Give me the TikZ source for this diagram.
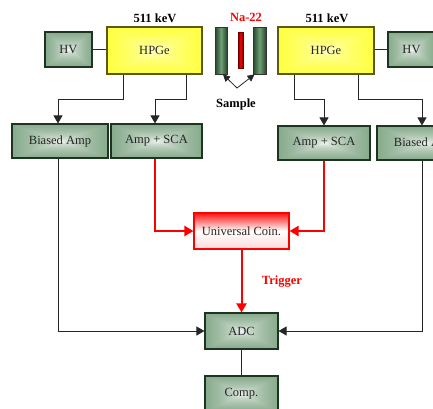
\documentclass[tikz,border=0pt]{standalone}
\usepackage{fontspec}
\setmainfont{Liberation Serif}
\usetikzlibrary{arrows.meta}

% rectangular "from centre" gradients: white in the middle, colour at the rim
\pgfdeclarefunctionalshading{greenbox}{\pgfpoint{-50bp}{-50bp}}{\pgfpoint{50bp}{50bp}}{}{
  abs exch abs 2 copy lt {exch} if pop 50 div sqrt
  dup 0.667 mul 1 exch sub exch
  dup 0.470 mul 1 exch sub exch
  0.640 mul 1 exch sub}
\pgfdeclarefunctionalshading{yellowbox}{\pgfpoint{-50bp}{-50bp}}{\pgfpoint{50bp}{50bp}}{}{
  abs exch abs 2 copy lt {exch} if pop 50 div sqrt
  1 exch sub 0.85 mul 1 1 3 -1 roll}

\definecolor{boxedge}{RGB}{28,52,32}
\definecolor{hpgeedge}{RGB}{90,90,20}
\definecolor{bardark}{RGB}{38,68,44}
\definecolor{barlight}{RGB}{112,160,118}
\definecolor{srcdark}{RGB}{110,0,0}
\definecolor{coinred}{RGB}{255,20,20}

\tikzset{
  txt/.style={font=\fontsize{12.5}{15}\selectfont, text=black!85},
  gbox/.style={txt, draw=boxedge, line width=1.1pt, shade, shading=greenbox, inner sep=0pt},
  ybox/.style={txt, draw=hpgeedge, line width=1.1pt, shade, shading=yellowbox, inner sep=0pt,
               minimum width=95pt, minimum height=47pt},
  bar/.style={draw=black!80, line width=0.8pt, left color=bardark, right color=bardark,
              middle color=barlight, inner sep=0pt, minimum width=12pt, minimum height=47pt},
  conn/.style={draw=black!85, line width=0.8pt},
  tip/.style={-{Triangle[width=9pt,length=8pt]}},
  redconn/.style={draw=red, line width=2pt, -{Triangle[width=10pt,length=9pt]}},
  lbl/.style={font=\bfseries\fontsize{12.5}{15}\selectfont},
}

\begin{document}
\begin{tikzpicture}[x=1pt,y=-1pt]
\useasboundingbox (0,0) rectangle (433,408);

% detectors and high voltage supplies
\node[gbox, minimum width=47pt, minimum height=35pt] (hvL) at (68.5,49.5) {HV};
\node[ybox] (hpgeL) at (154.5,50.5) {HPGe};
\node[ybox, minimum width=96pt] (hpgeR) at (326,50.5) {HPGe};
\node[gbox, minimum width=47pt, minimum height=35pt] (hvR) at (411.5,49.5) {HV};

% source between the two sample plates
\node[bar] (barL) at (221,50.5) {};
\node[bar, minimum width=13pt] (barR) at (259.5,50.5) {};
\node[draw=srcdark, line width=0.6pt, left color=srcdark, right color=srcdark, middle color=red,
      inner sep=0pt, minimum width=5pt, minimum height=36pt] (src) at (240.5,50) {};

\node[lbl] (keVL) at (155,18) {511 keV};
\node[lbl] (keVR) at (327,18) {511 keV};
\node[lbl, text=red] (na) at (246,17) {Na-22};
\node[lbl] (sample) at (236,104) {Sample};

% amplifiers
\node[gbox, minimum width=96pt, minimum height=34pt] (bampL) at (60,141) {Biased Amp};
\node[gbox, minimum width=91pt, minimum height=34pt] (ascaL) at (156.5,141) {Amp + SCA};
\node[gbox, minimum width=92pt, minimum height=34pt] (ascaR) at (324,143) {Amp + SCA};
\node[gbox, minimum width=96pt, minimum height=34pt] (bampR) at (425,143) {Biased Amp};

% coincidence, ADC, computer
\node[txt, draw=red, line width=1.1pt, top color=coinred, bottom color=red!15, middle color=white,
      inner sep=0pt, minimum width=95pt, minimum height=36pt] (coin) at (241.5,231) {Universal Coin.};
\node[lbl, text=red] (trig) at (282,282) {Trigger};
\node[gbox, minimum width=73pt, minimum height=36pt] (adc) at (241.5,331) {ADC};
\node[gbox, minimum width=73pt, minimum height=36pt] (comp) at (241.5,394) {Comp.};

% connections
\draw[conn] (hvL.east) -- (hvL.east -| hpgeL.west);
\draw[conn] (hpgeR.east |- hvR.west) -- (hvR.west);
\draw[conn,tip] ([xshift=-31.5pt]hpgeL.south) -- ++(0,25) -| ([xshift=-2pt]bampL.north);
\draw[conn,tip] ([xshift=31.5pt]hpgeL.south) -- ++(0,25) -| ([xshift=-1.5pt]ascaL.north);
\draw[conn,tip] ([xshift=-32pt]hpgeR.south) -- ++(0,25) -| (ascaR.north);
\draw[conn,tip] ([xshift=32pt]hpgeR.south) -- ++(0,25) -| ([xshift=-3pt]bampR.north);

\coordinate (sv) at (237,88);
\draw[conn, {Triangle[width=7pt,length=7pt]}-{Triangle[width=7pt,length=7pt]}]
  ([xshift=2pt]barL.south) -- (sv) -- ([xshift=-5pt]barR.south);

\draw[redconn] ([xshift=-1.5pt]ascaL.south) |- (coin.west);
\draw[redconn] (ascaR.south) |- (coin.east);
\draw[redconn] (coin.south) -- (adc.north);

\draw[conn,tip] ([xshift=-2pt]bampL.south) |- (adc.west);
\draw[conn,tip] ([xshift=-3pt]bampR.south) |- (adc.east);
\draw[conn] (adc.south) -- (comp.north);
\end{tikzpicture}
\end{document}
